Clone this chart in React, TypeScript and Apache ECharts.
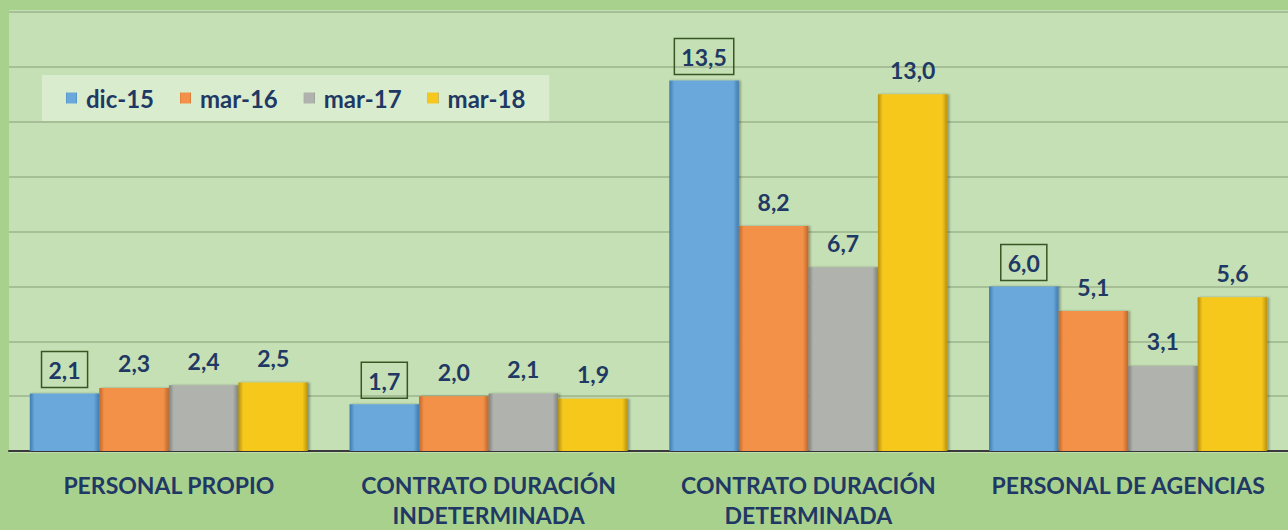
import React, { useEffect, useRef } from "react";
import * as echarts from "echarts";

const categories = ["PERSONAL PROPIO", "CONTRATO DURACIÓN\nINDETERMINADA", "CONTRATO DURACIÓN\nDETERMINADA", "PERSONAL DE AGENCIAS"];
const seriesNames = ["dic-15", "mar-16", "mar-17", "mar-18"];
const dic15 = [2.1, 1.7, 13.5, 6.0];
const mar16 = [2.3, 2.0, 8.2, 5.1];
const mar17 = [2.4, 2.1, 6.7, 3.1];
const mar18 = [2.5, 1.9, 13.0, 5.6];
const colors = ["#6aa7da", "#f39148", "#b0b2ae", "#f6c81e"];
const darkColors = ["#3f7bb0", "#c0652a", "#7f817d", "#b8900a"];
const lightColors = ["#a9cdee", "#f9bf92", "#d6d7d4", "#fbe27a"];

const NAVY = "#1f3864";
const FONT = "Lato, 'Open Sans', sans-serif";

export default function App() {
  const ref = useRef<HTMLDivElement>(null);
  useEffect(() => {
    if (!ref.current) return;
    const chart = echarts.init(ref.current, null, { renderer: "svg" });
    const values = [dic15, mar16, mar17, mar18];
    const series = values.map((data, i) => ({
      name: seriesNames[i],
      type: "bar",
      barGap: "0%",
      barCategoryGap: "13%",
      data,
      itemStyle: {
        color: new echarts.graphic.LinearGradient(0, 0, 1, 0, [
          { offset: 0, color: darkColors[i] },
          { offset: 0.07, color: colors[i] },
          { offset: 0.92, color: colors[i] },
          { offset: 1, color: darkColors[i] },
        ]),
        borderColor: lightColors[i],
        borderWidth: 0,
        shadowColor: "rgba(0,0,0,0.3)",
        shadowOffsetX: 2,
        shadowBlur: 2,
      },
      label: {
        show: true,
        position: "top",
        distance: i === 0 ? 6 : 13,
        formatter: (p: any) => p.value.toFixed(1).replace(".", ","),
        color: NAVY,
        fontFamily: FONT,
        fontWeight: "bold",
        fontSize: 23,
        ...(i === 0
          ? { borderColor: "#375623", borderWidth: 1.5, padding: [7, 7, 6, 7] }
          : {}),
      },
    }));
    chart.setOption({
      animation: false,
      backgroundColor: "#a9d18e",
      color: colors,
      graphic: [
        {
          type: "rect",
          shape: { x: 9, y: 10, width: 1279, height: 443 },
          style: { fill: "#c5e0b4" },
          z: -10,
          silent: true,
        },
      ],
      legend: {
        data: seriesNames,
        left: 42,
        top: 75,
        padding: [11, 24, 11, 24],
        backgroundColor: "rgba(235,245,228,0.55)",
        itemWidth: 11,
        itemHeight: 11,
        itemGap: 26,
        icon: "rect",
        textStyle: { color: NAVY, fontFamily: FONT, fontWeight: "bold", fontSize: 24, padding: [0, 0, 0, 4] },
      },
      grid: { left: 9, right: 0, top: 12, bottom: 77, containLabel: false },
      xAxis: {
        type: "category",
        data: categories,
        axisLine: { lineStyle: { color: "#3a3a3a", width: 2 } },
        axisTick: { show: false },
        axisLabel: {
          color: NAVY,
          fontFamily: FONT,
          fontWeight: "bold",
          fontSize: 23,
          lineHeight: 30,
          margin: 19,
          interval: 0,
        },
      },
      yAxis: {
        type: "value",
        min: 0,
        max: 16,
        interval: 2,
        axisLabel: { show: false },
        axisLine: { show: false },
        axisTick: { show: false },
        splitLine: { lineStyle: { color: "#9db58c", width: 1.5 } },
      },
      series,
    });
    return () => chart.dispose();
  }, []);
  return <div ref={ref} style={{ width: 1288, height: 530, position: "absolute", left: 0, top: 0 }} />;
}
